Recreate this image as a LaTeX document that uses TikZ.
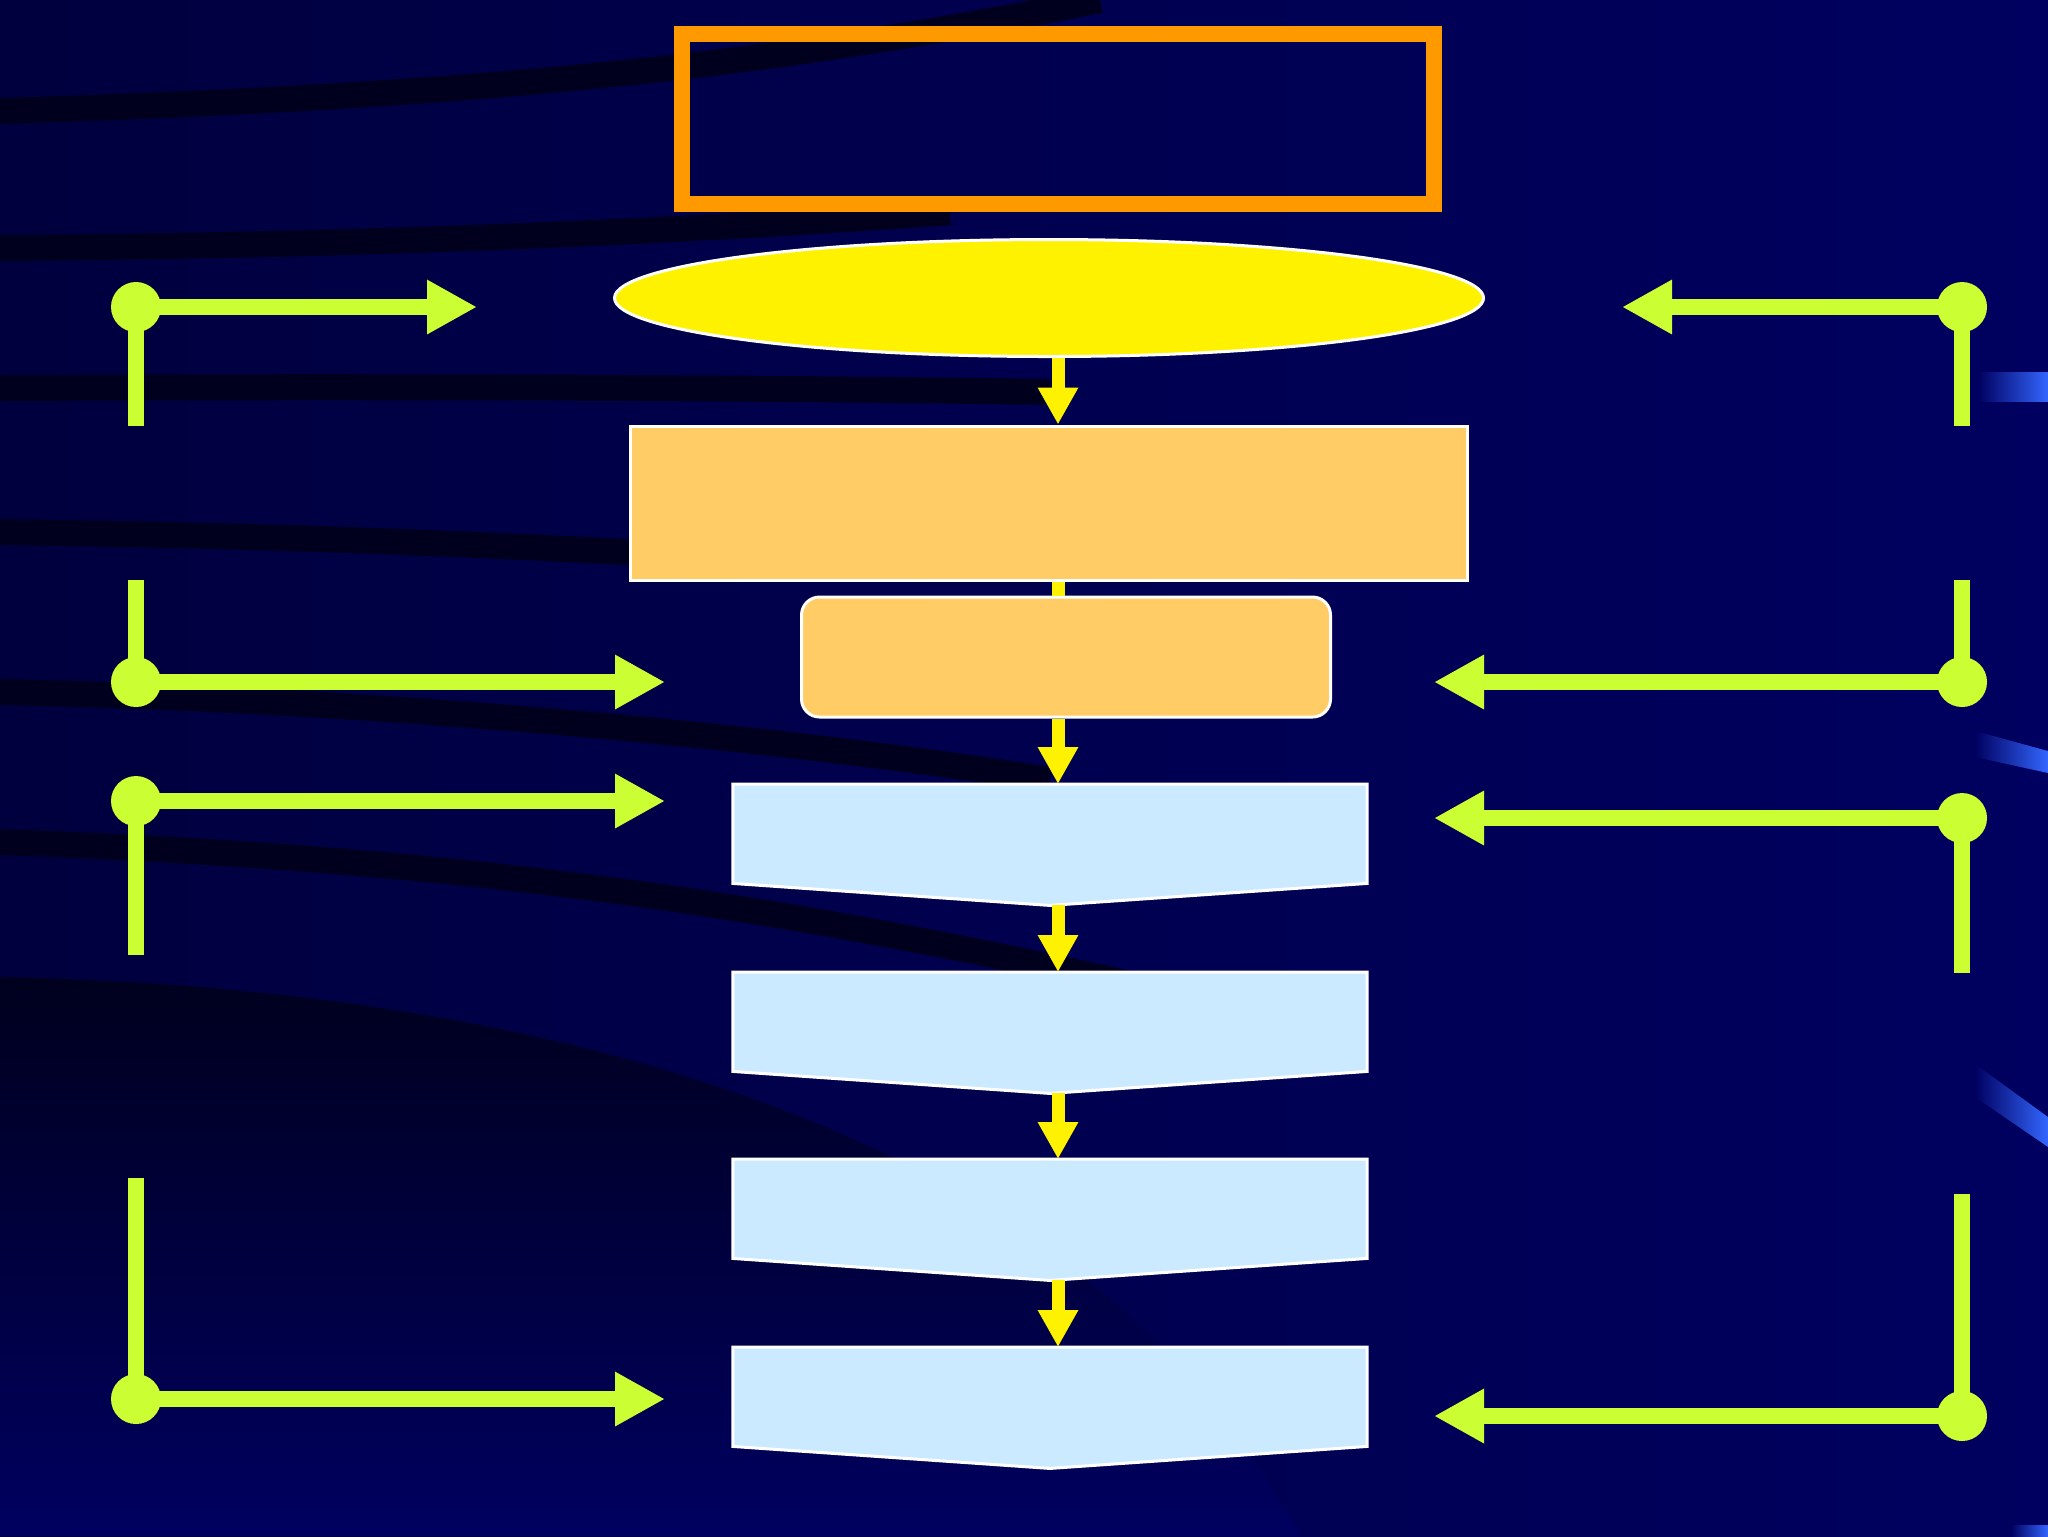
\documentclass[tikz,border=0pt]{standalone}
\usetikzlibrary{shapes.geometric, arrows.meta, positioning, fadings}

\definecolor{navy}{RGB}{0,0,96}
\definecolor{darkband}{RGB}{0,0,30}
\definecolor{frameorange}{RGB}{255,153,0}
\definecolor{boxorange}{RGB}{255,204,102}
\definecolor{boxblue}{RGB}{204,234,255}
\definecolor{lime}{RGB}{204,255,51}
\definecolor{streak}{RGB}{51,102,255}

\begin{document}
\begin{tikzpicture}[
  x=0.1mm, y=-0.1mm,
  title/.style={rectangle, draw=frameorange, line width=1.6mm, minimum width=7.52cm, minimum height=1.70cm, inner sep=0},
  goal/.style={ellipse, fill=yellow, draw=white, line width=0.3mm, minimum width=8.69cm, minimum height=1.17cm, inner sep=0},
  plan/.style={rectangle, fill=boxorange, draw=white, line width=0.3mm, inner sep=0},
  stage/.style={rectangle, inner sep=0, minimum width=6.33cm, minimum height=0.98cm},
  stagefill/.style={fill=boxblue, draw=white, line width=0.3mm},
  hub/.style={circle, fill=lime, minimum size=5mm, inner sep=0},
  flow/.style={yellow, line width=1.3mm, -{Triangle[length=3.7mm, width=3.8mm]}},
  link/.style={lime, line width=1.6mm},
  feed/.style={link, -{Triangle[length=5mm, width=5.1mm]}}
]

% Background
\useasboundingbox (0,0) rectangle (2048,1536);
\shade[left color=navy!65!black, right color=navy] (0,0) rectangle (2048,1536);
\shade[top color=darkband, bottom color=navy] (0,977) .. controls (600,990) and (1100,1150) .. (1300,1536) -- (0,1536) -- cycle;
\begin{scope}[darkband, line width=2.6mm, path fading=east]
  \draw (0,111) .. controls (520,95) and (800,60) .. (1100,0);
  \draw (0,248) .. controls (400,245) and (700,230) .. (950,212);
  \draw (0,388) .. controls (400,386) and (800,388) .. (1050,392);
  \draw (0,532) .. controls (300,536) and (500,545) .. (700,556);
  \draw (0,692) .. controls (400,700) and (800,740) .. (1050,780);
  \draw (0,842) .. controls (500,860) and (800,910) .. (1180,995);
\end{scope}
\shade[left color=navy, right color=streak] (1978,372) rectangle (2048,401);
\shade[left color=navy, right color=streak] (1975,731) -- (2048,751) -- (2048,773) -- (1975,757) -- cycle;
\shade[left color=navy, right color=streak] (1975,1064) -- (2048,1117) -- (2048,1147) -- (1975,1097) -- cycle;
\shade[left color=navy, right color=streak] (2011,1525) rectangle (2048,1536);

% Title frame and goal
\node[title] (head) at (1058,119) {};
\node[goal] (aim) at (1049,298) {};
\coordinate (spine) at (1058,0);

% Planning boxes
\node[plan, minimum width=8.37cm, minimum height=1.54cm] (plan) at (1049,503) {};
\node[plan, rounded corners=1.8mm, minimum width=5.29cm, minimum height=1.20cm] (task) at (1066,657) {};

% Stages
\foreach \i/\y in {1/784, 2/972, 3/1159, 4/1347} {
  \node[stage, anchor=north] (s\i) at (1050,\y) {};
  \coordinate (s\i-tip) at ([yshift=-2.2mm]s\i.south);
  \path[stagefill] (s\i.north west) -- (s\i.north east) -- (s\i.south east) -- (s\i-tip) -- (s\i.south west) -- cycle;
}

% Arrows
\draw[flow] (aim.south-|spine) -- (plan.north-|spine);
\draw[yellow, line width=1.3mm] (plan.south-|spine) -- (task.north-|spine);
\draw[flow] (task.south-|spine) -- (s1.north-|spine);
\draw[flow] (s1-tip-|spine) -- (s2.north-|spine);
\draw[flow] (s2-tip-|spine) -- (s3.north-|spine);
\draw[flow] (s3-tip-|spine) -- (s4.north-|spine);

% Left feeds
\foreach \n/\y/\tip/\stub in {l1/307/477/426, l2/682/665/580, l3/801/665/955, l4/1399/665/1178} {
  \node[hub] (\n) at (136,\y) {};
  \coordinate (\n-end) at (136,\stub);
  \coordinate (\n-tip) at (\tip,\y);
  \draw[link] (\n.center) -- (\n-end);
  \draw[feed] (\n.center) -- (\n-tip);
}

% Right feeds
\foreach \n/\y/\tip/\stub in {r1/307/1622/426, r2/682/1434/580, r3/818/1434/973, r4/1416/1434/1194} {
  \node[hub] (\n) at (1962,\y) {};
  \coordinate (\n-end) at (1962,\stub);
  \coordinate (\n-tip) at (\tip,\y);
  \draw[link] (\n.center) -- (\n-end);
  \draw[feed] (\n.center) -- (\n-tip);
}

\end{tikzpicture}
\end{document}
